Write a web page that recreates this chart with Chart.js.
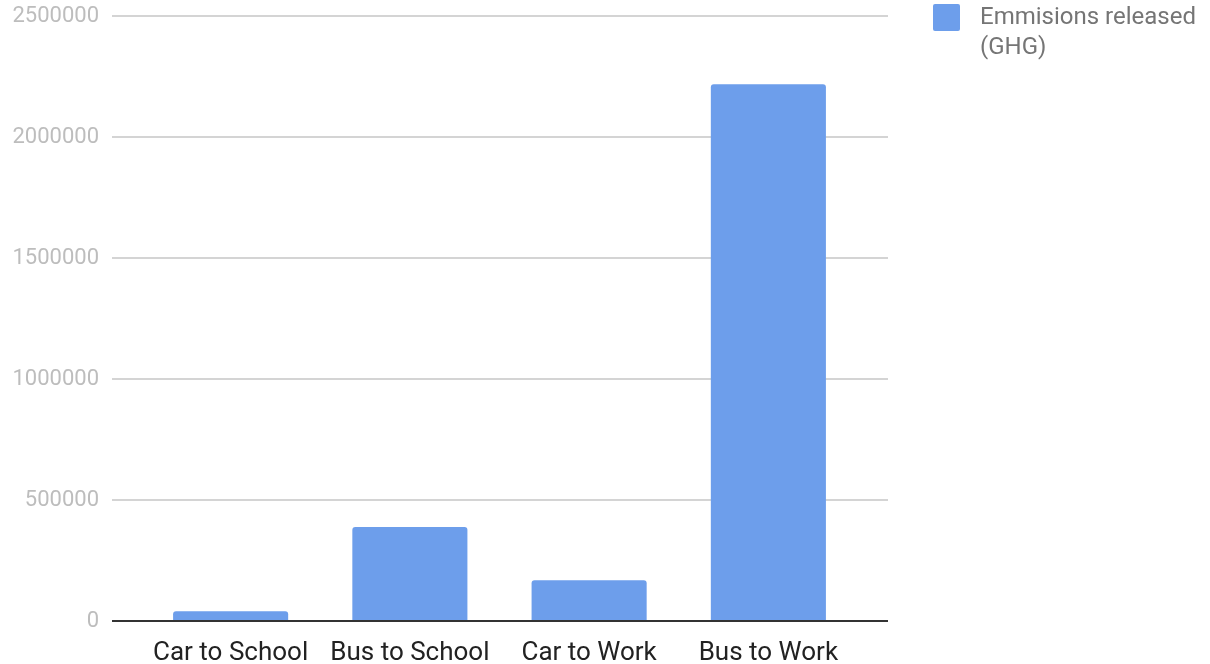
<!DOCTYPE html>
<html>
<head>
<meta charset="utf-8">
<script src="https://cdn.jsdelivr.net/npm/chart.js@4/dist/chart.umd.min.js"></script>
<style>
  html, body { margin: 0; padding: 0; background: #ffffff; }
  #wrap { width: 1210px; height: 664px; position: relative; }
</style>
</head>
<body>
<div id="wrap"><canvas id="c"></canvas></div>
<script>
const categories = ["Car to School", "Bus to School", "Car to Work", "Bus to Work"];
const seriesLabel = ["Emmisions released", "(GHG)"];
const emissions = [40000, 388000, 168000, 2218000];
const yMin = 0;
const yMax = 2500000;
const yStep = 500000;

const barColor = '#6d9eeb';

// legend swatch
const swatch = document.createElement('canvas');
swatch.width = 27; swatch.height = 27;
(function () {
  const g = swatch.getContext('2d');
  g.fillStyle = barColor;
  g.beginPath();
  if (g.roundRect) { g.roundRect(0, 0, 27, 27, 2); } else { g.rect(0, 0, 27, 27); }
  g.fill();
})();

const gridColor = (ctx) => (ctx.tick && ctx.tick.value === 0) ? '#333333' : '#d4d4d4';

Chart.defaults.font.family = 'Roboto, "Noto Sans", sans-serif';

new Chart(document.getElementById('c'), {
  type: 'bar',
  data: {
    labels: categories,
    datasets: [{
      label: seriesLabel,
      data: emissions,
      backgroundColor: barColor,
      borderRadius: { topLeft: 3, topRight: 3, bottomLeft: 0, bottomRight: 0 },
      borderSkipped: 'start',
      categoryPercentage: 1.0,
      barPercentage: 0.642,
      yAxisID: 'y'
    }]
  },
  options: {
    responsive: true,
    maintainAspectRatio: false,
    animation: false,
    layout: { padding: { top: 0, right: 6.5, bottom: 0, left: 0 } },
    plugins: {
      tooltip: { enabled: false },
      legend: {
        position: 'right',
        align: 'start',
        maxWidth: 284,
        labels: {
          usePointStyle: true,
          pointStyle: swatch,
          pointStyleWidth: 43,
          boxHeight: 24,
          padding: 5.5,
          color: '#757575',
          font: { size: 24, lineHeight: 1.25 }
        }
      }
    },
    scales: {
      x: {
        grid: { display: false, drawTicks: false },
        border: { display: false },
        ticks: { color: '#222222', font: { size: 26 }, padding: 17, maxRotation: 0, autoSkip: false },
        afterFit: (s) => { s.height = 43; }
      },
      y: {
        position: 'left',
        min: yMin, max: yMax,
        border: { display: false },
        grid: { color: gridColor, tickColor: gridColor, lineWidth: 2, tickLength: 29 },
        ticks: {
          stepSize: yStep, color: '#bdbdbd', font: { size: 22, lineHeight: 0.28 }, padding: 13,
          callback: (v) => String(v)
        },
        afterFit: (s) => { s.width = 141; }
      },
      y2: {
        position: 'right',
        min: yMin, max: yMax,
        border: { display: false },
        grid: { drawOnChartArea: false, color: gridColor, tickColor: gridColor, lineWidth: 2, tickLength: 30 },
        ticks: { stepSize: yStep, display: false },
        afterFit: (s) => { s.width = 61.5; }
      }
    }
  }
});
</script>
</body>
</html>
